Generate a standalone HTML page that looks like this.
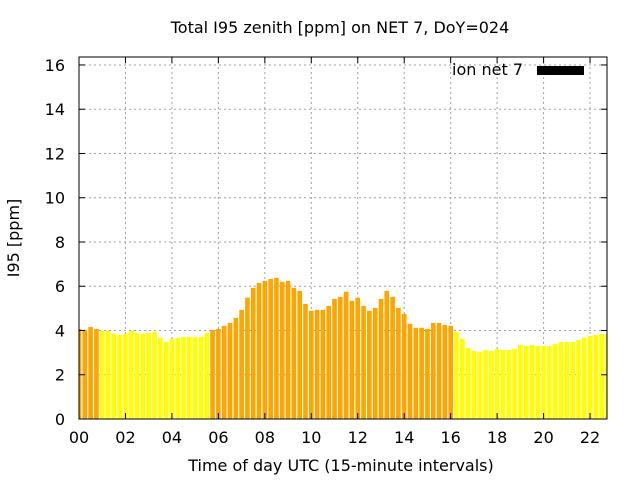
<!DOCTYPE html>
<html><head><meta charset="utf-8"><style>
html,body{margin:0;padding:0;background:#fff;}
svg{display:block;font-family:"DejaVu Sans","Liberation Sans",sans-serif;}
</style></head><body>
<svg id="chart" width="640" height="480" xmlns="http://www.w3.org/2000/svg">
<text x="340" y="33" font-size="16" text-anchor="middle">Total I95 zenith [ppm] on NET 7, DoY=024</text>
<text x="341" y="471" font-size="16" text-anchor="middle">Time of day UTC (15-minute intervals)</text>
<text x="19" y="238" font-size="16" text-anchor="middle" transform="rotate(-90 19 238)">I95 [ppm]</text>
<g id="grid"></g>
<g id="bars"></g>
<g id="axes"></g>
<g>
<text x="523" y="75" font-size="16" text-anchor="end">ion net 7</text>
<rect x="537" y="66" width="47" height="9" fill="#000"/>
</g>
</svg>
<script>
const values = [4.07,4.03,4.16,4.07,3.98,3.98,3.86,3.80,3.86,3.98,3.89,3.86,3.89,3.94,3.67,3.48,3.62,3.67,3.71,3.71,3.71,3.71,3.89,4.03,4.07,4.21,4.34,4.57,4.93,5.48,5.93,6.15,6.24,6.33,6.38,6.20,6.24,5.93,5.79,5.20,4.89,4.93,4.93,5.11,5.43,5.52,5.75,5.34,5.48,5.11,4.89,5.02,5.43,5.79,5.52,5.02,4.75,4.30,4.12,4.12,4.07,4.34,4.34,4.25,4.21,3.94,3.62,3.21,3.08,3.03,3.12,3.08,3.17,3.12,3.12,3.17,3.35,3.30,3.35,3.30,3.30,3.30,3.39,3.48,3.48,3.48,3.57,3.67,3.76,3.80,3.85,3.85];
const xTicks = [0,2,4,6,8,10,12,14,16,18,20,22];
const xTickLabels = ["00","02","04","06","08","10","12","14","16","18","20","22"];
const yTicks = [0,2,4,6,8,10,12,14,16];
const threshold = 4.0;
const L=79,R=607,T=57,B=419;
const xMax=22.73, yMax=16.36;
const xs=h=>L+h/xMax*(R-L);
const ys=v=>B-v/yMax*(B-T);
const NS="http://www.w3.org/2000/svg";
function mk(tag,attrs,parent){const e=document.createElementNS(NS,tag);for(const k in attrs)e.setAttribute(k,attrs[k]);parent.appendChild(e);return e;}
const grid=document.getElementById('grid'),bars=document.getElementById('bars'),axes=document.getElementById('axes');
xTicks.forEach((t,i)=>{
  const x=xs(t);
  if(t>0){const g=mk('line',{x1:x,x2:x,y1:T,y2:B,stroke:'#a0a0a0','stroke-dasharray':'2,3','stroke-width':1},grid);
  
  }
  mk('line',{x1:x,x2:x,y1:B,y2:B-6,stroke:'#000'},axes);
  mk('line',{x1:x,x2:x,y1:T,y2:T+6,stroke:'#000'},axes);
  const lb=mk('text',{x:x,y:443,'font-size':16,'text-anchor':'middle'},axes);
  lb.textContent=xTickLabels[i];
  
  
});
yTicks.forEach(t=>{
  const y=ys(t);
  if(t>0){const g=mk('line',{x1:L,x2:R,y1:y,y2:y,stroke:'#a0a0a0','stroke-dasharray':'2,3','stroke-width':1},grid);
  
  }
  mk('line',{x1:L,x2:L+6,y1:y,y2:y,stroke:'#000'},axes);
  mk('line',{x1:R,x2:R-6,y1:y,y2:y,stroke:'#000'},axes);
  const lb=mk('text',{x:65,y:y+6,'font-size':16,'text-anchor':'end'},axes);
  lb.textContent=String(t);
  
  
});
const bw=(xs(0.25)-xs(0))*0.8;
values.forEach((v,i)=>{
  const cx=xs(i*0.25);
  let x0=Math.max(L,cx-bw/2), x1=Math.min(R,cx+bw/2);
  const r=mk('rect',{x:x0,y:ys(v),width:Math.max(0,x1-x0),height:B-ys(v),fill:v>threshold?'#ffa500':'#ffff00'},bars);
  
  
});
mk('rect',{x:L,y:T,width:R-L,height:B-T,fill:'none',stroke:'#000','stroke-width':1},axes);
</script>
</body></html>
